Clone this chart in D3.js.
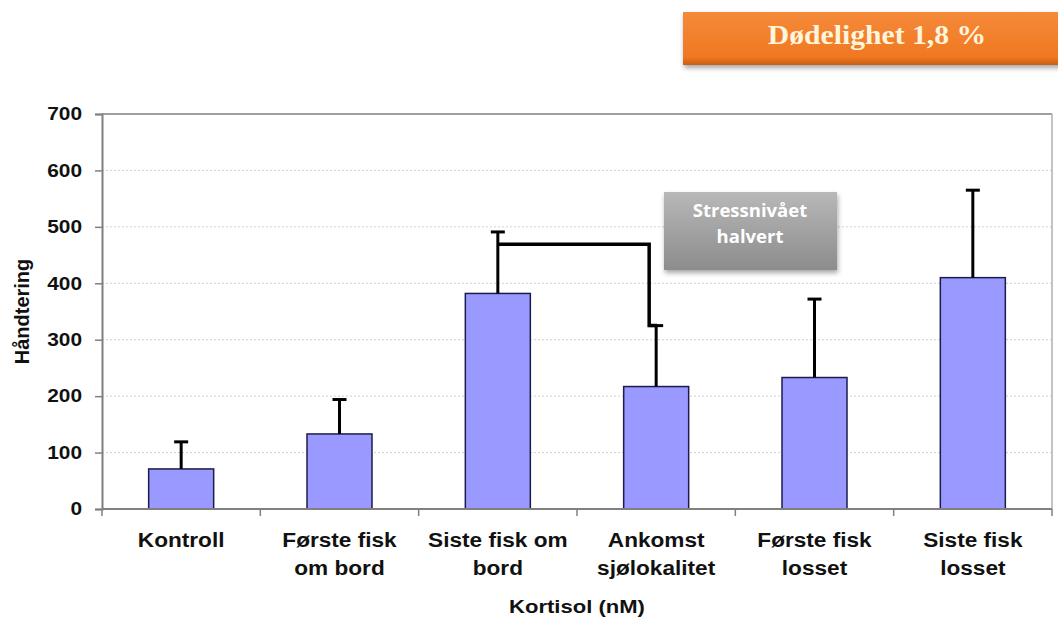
<!DOCTYPE html>
<html>
<head>
<meta charset="utf-8">
<script src="https://cdn.jsdelivr.net/npm/d3@7"></script>
<style>
  html, body { margin: 0; padding: 0; background: #fff; }
  svg { display: block; }
</style>
</head>
<body>
<svg id="chart" width="1058" height="617"></svg>
<script>
const categories = [
  ["Kontroll"],
  ["Første fisk", "om bord"],
  ["Siste fisk om", "bord"],
  ["Ankomst", "sjølokalitet"],
  ["Første fisk", "losset"],
  ["Siste fisk", "losset"]
];
const values = [71, 133, 382, 217, 233, 410];
const errorTops = [119, 194, 491, 325, 372, 565];
const yTicks = [0, 100, 200, 300, 400, 500, 600, 700];
const bracketLevel = 469;
const yTitle = "Håndtering";
const xTitle = "Kortisol (nM)";
const badgeText = "Dødelighet 1,8 %";
const noteLines = ["Stressnivået", "halvert"];

const svg = d3.select("#chart");
const m = { left: 102, right: 1052, top: 114, bottom: 509 };
const FONT = "Liberation Sans, Arial, sans-serif";
const SX = 1.16;

const x = d3.scaleBand().domain(d3.range(categories.length)).range([m.left, m.right]).paddingInner(0).paddingOuter(0);
const y = d3.scaleLinear().domain([0, 700]).range([m.bottom, m.top]);

const defs = svg.append("defs");
const og = defs.append("linearGradient").attr("id", "og").attr("x1", 0).attr("y1", 0).attr("x2", 0).attr("y2", 1);
og.append("stop").attr("offset", "0%").attr("stop-color", "#f58a3a");
og.append("stop").attr("offset", "85%").attr("stop-color", "#f07822");
og.append("stop").attr("offset", "100%").attr("stop-color", "#c85e14");
const gg = defs.append("linearGradient").attr("id", "gg").attr("x1", 0).attr("y1", 0).attr("x2", 0).attr("y2", 1);
gg.append("stop").attr("offset", "0%").attr("stop-color", "#b8b8b8");
gg.append("stop").attr("offset", "100%").attr("stop-color", "#8c8c8c");
const sh = defs.append("filter").attr("id", "sh").attr("x", "-10%").attr("y", "-20%").attr("width", "130%").attr("height", "160%");
sh.append("feDropShadow").attr("dx", 1).attr("dy", 3).attr("stdDeviation", 2.5).attr("flood-color", "#000").attr("flood-opacity", 0.35);

// gridlines
svg.append("g").selectAll("line").data(yTicks.filter(d => d > 0 && d < 700)).join("line")
  .attr("x1", m.left).attr("x2", m.right)
  .attr("y1", d => y(d)).attr("y2", d => y(d))
  .attr("stroke", "#d0d0d0").attr("stroke-width", 1).attr("stroke-dasharray", "2,2");

// frame top/right
svg.append("line").attr("x1", m.left).attr("x2", m.right).attr("y1", y(700)).attr("y2", y(700)).attr("stroke", "#a0a0a0").attr("stroke-width", 2);
svg.append("line").attr("x1", m.right).attr("x2", m.right).attr("y1", y(700)).attr("y2", y(0)).attr("stroke", "#b0b0b0").attr("stroke-width", 1.5);

// bars
const bw = 65;
svg.append("g").selectAll("rect").data(values).join("rect")
  .attr("x", (d, i) => x(i) + x.bandwidth() / 2 - bw / 2)
  .attr("y", d => y(d))
  .attr("width", bw)
  .attr("height", d => y(0) - y(d))
  .attr("fill", "#9999ff").attr("stroke", "#1c1c4c").attr("stroke-width", 1.5);

// error bars
const eg = svg.append("g").attr("stroke", "#000").attr("stroke-width", 3);
values.forEach((v, i) => {
  const cx = x(i) + x.bandwidth() / 2;
  eg.append("line").attr("x1", cx).attr("x2", cx).attr("y1", y(v)).attr("y2", y(errorTops[i]));
  eg.append("line").attr("x1", cx - 7).attr("x2", cx + 7).attr("y1", y(errorTops[i])).attr("y2", y(errorTops[i]));
});

// bracket
const bx1 = x(2) + x.bandwidth() / 2;
const bx2 = x(3) + x.bandwidth() / 2 - 7;
svg.append("path")
  .attr("d", `M${bx1},${y(bracketLevel)} H${bx2} V${y(errorTops[3])} H${bx2 + 8}`)
  .attr("fill", "none").attr("stroke", "#000").attr("stroke-width", 3.5);

// axes
const yAxis = svg.append("g").attr("transform", `translate(${m.left},0)`)
  .call(d3.axisLeft(y).tickValues(yTicks).tickSize(7).tickPadding(13));
yAxis.select(".domain").attr("stroke", "#808080").attr("stroke-width", 2);
yAxis.selectAll(".tick line").attr("stroke", "#808080").attr("stroke-width", 1.5);
yAxis.selectAll(".tick text").attr("font-family", FONT)
  .attr("font-weight", "bold").attr("font-size", 18).attr("fill", "#111")
  .attr("x", 0).attr("transform", `translate(-20,0) scale(${SX},1)`);

const xAxis = svg.append("g").attr("transform", `translate(0,${m.bottom})`);
xAxis.append("line").attr("x1", m.left).attr("x2", m.right).attr("y1", 0).attr("y2", 0).attr("stroke", "#808080").attr("stroke-width", 2);
xAxis.selectAll(".tk").data(d3.range(categories.length + 1)).join("line")
  .attr("x1", i => m.left + i * x.bandwidth()).attr("x2", i => m.left + i * x.bandwidth())
  .attr("y1", 0).attr("y2", 7).attr("stroke", "#808080").attr("stroke-width", 1.5);

xAxis.selectAll("text.cat").data(categories).join("text").attr("class", "cat")
  .attr("text-anchor", "middle")
  .attr("transform", (d, i) => `translate(${x(i) + x.bandwidth() / 2},0) scale(${SX},1)`)
  .attr("font-family", FONT).attr("font-weight", "bold").attr("font-size", 19.5).attr("fill", "#111")
  .each(function(lines) {
    const t = d3.select(this);
    lines.forEach((ln, k) => {
      t.append("tspan").attr("x", 0).attr("y", 38.5 + k * 28).text(ln);
    });
  });

// titles
svg.append("text").attr("transform", `translate(29,${(y(0) + y(700)) / 2}) rotate(-90)`)
  .attr("text-anchor", "middle").attr("font-family", FONT)
  .attr("font-weight", "bold").attr("font-size", 20).attr("fill", "#111").text(yTitle);
svg.append("text").attr("transform", `translate(${(m.left + m.right) / 2},613) scale(${SX},1)`)
  .attr("text-anchor", "middle").attr("font-family", FONT)
  .attr("font-weight", "bold").attr("font-size", 19).attr("fill", "#111").text(xTitle);

// orange badge
svg.append("rect").attr("x", 683).attr("y", 12).attr("width", 390).attr("height", 53)
  .attr("fill", "url(#og)").attr("filter", "url(#sh)");
svg.append("text").attr("transform", "translate(877,43.5) scale(1.06,1)").attr("text-anchor", "middle")
  .attr("font-family", "Liberation Serif, Times New Roman, serif").attr("font-weight", "bold")
  .attr("font-size", 28).attr("fill", "#fff4dc").text(badgeText);

// gray note
svg.append("rect").attr("x", 664).attr("y", 192).attr("width", 173).attr("height", 78)
  .attr("fill", "url(#gg)").attr("filter", "url(#sh)");
const nt = svg.append("text").attr("text-anchor", "middle")
  .attr("font-family", "Open Sans, Lato, sans-serif").attr("font-weight", "bold")
  .attr("font-size", 18.5).attr("fill", "#fff");
noteLines.forEach((ln, k) => nt.append("tspan").attr("x", 750).attr("y", 217 + k * 26).text(ln));
</script>
</body>
</html>
